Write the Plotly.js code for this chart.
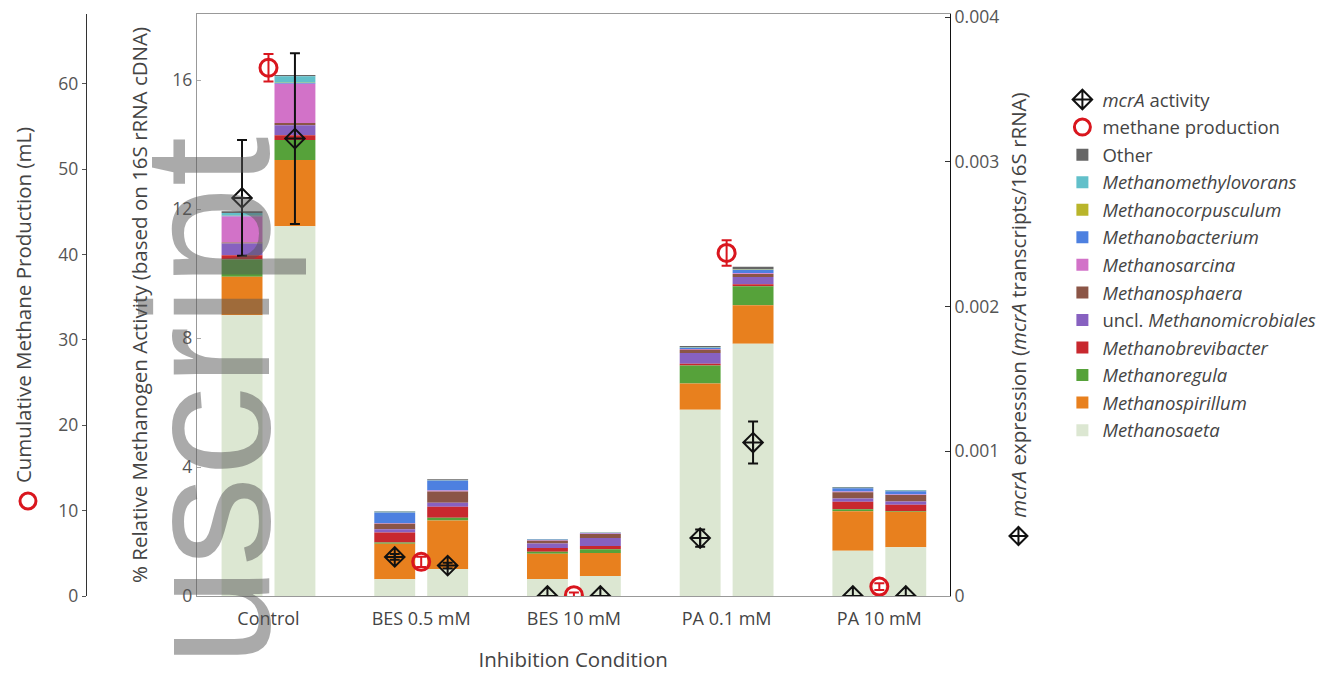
<!DOCTYPE html>
<html>
<head>
<meta charset="utf-8">
<script src="https://cdn.plot.ly/plotly-3.0.1.min.js"></script>
<style>html,body{margin:0;padding:0;background:#fff;}#chart{width:1331px;height:677px;}</style>
</head>
<body>
<div id="chart"></div>
<script>
// ---- data ----
const categories = ['Control', 'BES 0.5 mM', 'BES 10 mM', 'PA 0.1 mM', 'PA 10 mM'];

// relative activity (% of 16S rRNA cDNA), replicate A (left bar) and B (right bar)
const methanosaetaA        = [8.71, 0.52, 0.53, 5.78, 1.40];
const methanosaetaB        = [11.47, 0.84, 0.62, 7.82, 1.51];
const methanospirillumA    = [1.19, 1.10, 0.78, 0.81, 1.23];
const methanospirillumB    = [2.05, 1.50, 0.71, 1.20, 1.10];
const methanoregulaA       = [0.54, 0.04, 0.06, 0.56, 0.06];
const methanoregulaB       = [0.62, 0.09, 0.12, 0.59, 0.03];
const methanobrevibacterA  = [0.13, 0.31, 0.12, 0.05, 0.23];
const methanobrevibacterB  = [0.15, 0.34, 0.10, 0.06, 0.19];
const unclMicrobialesA     = [0.36, 0.10, 0.14, 0.34, 0.10];
const unclMicrobialesB     = [0.31, 0.12, 0.25, 0.22, 0.10];
const methanosphaeraA      = [0.03, 0.17, 0.08, 0.10, 0.20];
const methanosphaeraB      = [0.07, 0.35, 0.12, 0.10, 0.20];
const methanosarcinaA      = [0.81, 0.02, 0.02, 0.02, 0.02];
const methanosarcinaB      = [1.22, 0.03, 0.02, 0.02, 0.02];
const methanobacteriumA    = [0.02, 0.33, 0.02, 0.04, 0.10];
const methanobacteriumB    = [0.02, 0.31, 0.02, 0.11, 0.10];
const methanocorpusculumA  = [0.01, 0.01, 0.01, 0.01, 0.01];
const methanocorpusculumB  = [0.01, 0.01, 0.01, 0.01, 0.01];
const methanomethylovoransA= [0.08, 0.01, 0.01, 0.01, 0.01];
const methanomethylovoransB= [0.20, 0.01, 0.01, 0.01, 0.01];
const otherA               = [0.05, 0.02, 0.00, 0.03, 0.02];
const otherB               = [0.04, 0.02, 0.00, 0.07, 0.02];

// mcrA expression (mcrA transcripts / 16S rRNA)
const mcrA_A     = [0.00275, 0.00027, 0.0, 0.00040, 0.0];
const mcrA_A_err = [0.00040, 0.00002, 0.0, 0.00006, 0.0];
const mcrA_B     = [0.00316, 0.00021, 0.0, 0.00106, 0.0];
const mcrA_B_err = [0.00059, 0.00002, 0.0, 0.000145, 0.0];

// cumulative methane production (mL)
const methane     = [61.9, 4.0, 0.1, 40.2, 1.1];
const methane_err = [1.6, 0.6, 0.3, 1.5, 0.4];

// ---- build ----
const BARGAP = 0.307, BARGROUPGAP = 0.227;
const idx = categories.map((c, i) => i);
const off = (1 - BARGAP) / 4;

// stacking order bottom -> top
const genera = [
  {name: '<i>Methanosaeta</i>',            color: '#dce7d2', A: methanosaetaA, B: methanosaetaB},
  {name: '<i>Methanospirillum</i>',        color: '#e8801e', A: methanospirillumA, B: methanospirillumB},
  {name: '<i>Methanoregula</i>',           color: '#56a23a', A: methanoregulaA, B: methanoregulaB},
  {name: '<i>Methanobrevibacter</i>',      color: '#c8282e', A: methanobrevibacterA, B: methanobrevibacterB},
  {name: 'uncl. <i>Methanomicrobiales</i>',color: '#8761c0', A: unclMicrobialesA, B: unclMicrobialesB},
  {name: '<i>Methanosphaera</i>',          color: '#8b5546', A: methanosphaeraA, B: methanosphaeraB},
  {name: '<i>Methanosarcina</i>',          color: '#d272c8', A: methanosarcinaA, B: methanosarcinaB},
  {name: '<i>Methanobacterium</i>',        color: '#4d80e0', A: methanobacteriumA, B: methanobacteriumB},
  {name: '<i>Methanocorpusculum</i>',      color: '#b9b52b', A: methanocorpusculumA, B: methanocorpusculumB},
  {name: '<i>Methanomethylovorans</i>',    color: '#62c0ca', A: methanomethylovoransA, B: methanomethylovoransB},
  {name: 'Other',                          color: '#666666', A: otherA, B: otherB}
];

const baseA = categories.map(() => 0), baseB = categories.map(() => 0);
const pairs = [];
genera.forEach((g, k) => {
  const bA = baseA.slice(), bB = baseB.slice();
  pairs.push([
    {type: 'bar', x: idx, y: g.A, base: bA, offsetgroup: 'A', name: g.name,
     legendgroup: 'g' + k, marker: {color: g.color, line: {width: 0}}, hoverinfo: 'skip'},
    {type: 'bar', x: idx, y: g.B, base: bB, offsetgroup: 'B', name: g.name,
     legendgroup: 'g' + k, showlegend: false, marker: {color: g.color, line: {width: 0}}, hoverinfo: 'skip'}
  ]);
  g.A.forEach((v, i) => { baseA[i] += v; });
  g.B.forEach((v, i) => { baseB[i] += v; });
});
// legend: Other first ... Methanosaeta last; keep A before B in each pair
const barTraces = [];
pairs.reverse().forEach(p => { barTraces.push(p[0], p[1]); });

const mcrMarker = {symbol: 'diamond-cross-open', size: 15, color: '#111', line: {width: 2, color: '#111'}};
const traces = [
  {type: 'scatter', mode: 'markers', x: idx.map(i => i - off), y: mcrA_A, yaxis: 'y3',
   name: '<i>mcrA</i> activity', legendgroup: 'mcr', marker: mcrMarker,
   error_y: {type: 'data', array: mcrA_A_err, color: '#111', thickness: 2, width: 5}},
  {type: 'scatter', mode: 'markers', x: idx.map(i => i + off), y: mcrA_B, yaxis: 'y3',
   name: '<i>mcrA</i> activity', legendgroup: 'mcr', showlegend: false, marker: mcrMarker,
   error_y: {type: 'data', array: mcrA_B_err, color: '#111', thickness: 2, width: 5}},
  {type: 'scatter', mode: 'markers', x: idx, y: methane, yaxis: 'y2',
   name: 'methane production', legendgroup: 'ch4',
   marker: {symbol: 'circle-open', size: 17, color: '#d9161e', line: {width: 3, color: '#d9161e'}},
   error_y: {type: 'data', array: methane_err, color: '#d9161e', thickness: 2, width: 5}}
].concat(barTraces);

const W = 1311, H = 582; // paper size in px (after margins)
const px = x => (x - 10) / W;
const py = y => (596 - y) / H;
const FONT = 'Open Sans, Noto Sans, DejaVu Sans, sans-serif';

const layout = {
  width: 1331, height: 677,
  margin: {l: 10, r: 10, t: 14, b: 81, pad: 0},
  paper_bgcolor: '#fff', plot_bgcolor: '#fff',
  font: {family: FONT, color: '#444', size: 17},
  barmode: 'group', bargap: BARGAP, bargroupgap: BARGROUPGAP,
  showlegend: true,
  hovermode: false,
  xaxis: {
    domain: [px(197), px(951)], range: [-0.47, 4.46],
    tickvals: idx, ticktext: categories, ticks: 'outside', ticklen: 6, tickcolor: 'rgba(0,0,0,0)',
    showline: true, linecolor: '#999', linewidth: 1, mirror: true,
    showgrid: false, zeroline: false,
    tickfont: {size: 18, color: '#444'},
    title: {text: 'Inhibition Condition', font: {size: 20.5, color: '#444'}, standoff: 24}
  },
  yaxis: {
    range: [0, 18.05], tickvals: [0, 4, 8, 12, 16],
    ticks: 'inside', ticklen: 4, tickcolor: '#aaa',
    showline: true, linecolor: '#999', linewidth: 1,
    showgrid: false, zeroline: false,
    tickfont: {size: 17.5, color: '#555'},
    title: {text: '% Relative Methanogen Activity (based on 16S rRNA cDNA)', font: {size: 20.5, color: '#444'}, standoff: 19}
  },
  yaxis2: {
    overlaying: 'y', anchor: 'free', position: px(86), side: 'left',
    range: [0, 68.2], tick0: 0, dtick: 10,
    ticks: 'outside', ticklen: 4, tickcolor: '#555',
    showline: true, linecolor: '#333', linewidth: 1.5,
    showgrid: false, zeroline: false,
    tickfont: {size: 17.5, color: '#555'},
    title: {text: 'Cumulative Methane Production (mL)', font: {size: 20.5, color: '#444'}, standoff: 19}
  },
  yaxis3: {
    overlaying: 'y', anchor: 'x', side: 'right',
    range: [0, 0.004021], tick0: 0, dtick: 0.001,
    ticks: 'inside', ticklen: 5, tickcolor: '#333',
    showline: true, linecolor: '#111', linewidth: 1.5,
    showgrid: false, zeroline: false,
    tickfont: {size: 17.5, color: '#555'},
    title: {text: '<i>mcrA</i> expression (<i>mcrA</i> transcripts/16S rRNA)', font: {size: 20.5, color: '#444'}, standoff: 13}
  },
  legend: {
    x: px(1064), xanchor: 'left', y: py(81), yanchor: 'top',
    font: {size: 18.5, color: '#444'}, tracegroupgap: 0.5,
    bgcolor: 'rgba(0,0,0,0)', borderwidth: 0
  },
  shapes: [
    {type: 'circle', xref: 'paper', yref: 'paper', xsizemode: 'pixel', ysizemode: 'pixel',
     xanchor: px(28), yanchor: py(501), x0: -8, x1: 8, y0: -8, y1: 8,
     line: {color: '#d9161e', width: 3}},
    {type: 'path', xref: 'paper', yref: 'paper', xsizemode: 'pixel', ysizemode: 'pixel',
     xanchor: px(1020), yanchor: py(536),
     path: 'M0,-9 L9,0 L0,9 L-9,0 Z M-9,0 L9,0 M0,-9 L0,9',
     line: {color: '#111', width: 2}}
  ],
  annotations: [
    {text: 'nuscript', xref: 'paper', yref: 'paper', x: px(206), y: py(452),
     xanchor: 'center', yanchor: 'middle', textangle: -90, showarrow: false,
     font: {family: 'Liberation Sans, Arial, sans-serif', size: 180, color: 'rgba(85,85,85,0.5)'}}
  ]
};

Plotly.newPlot('chart', traces, layout, {displayModeBar: false, staticPlot: true});
</script>
</body>
</html>
